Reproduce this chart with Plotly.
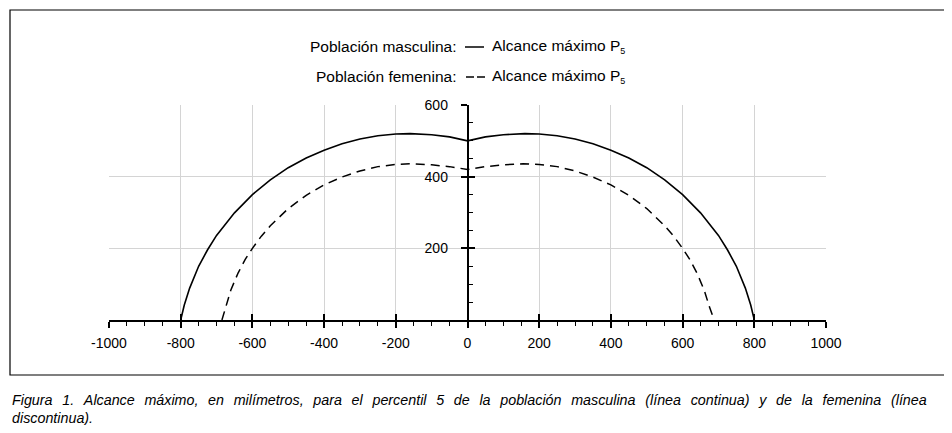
import plotly.graph_objects as go

# ---- data (mm) ----
male_x = [-800, -790, -775, -750, -725, -700, -650, -600, -550, -500, -450, -400, -350, -300, -250, -200, -160, -100, -50, 0,
          50, 100, 160, 200, 250, 300, 350, 400, 450, 500, 550, 600, 650, 700, 725, 750, 775, 790, 800]
male_y = [0, 42, 89, 150, 196, 236, 299, 350, 391, 425, 452, 474, 492, 505, 514, 519, 520, 517, 511, 500,
          511, 517, 520, 519, 514, 505, 492, 474, 452, 425, 391, 350, 299, 236, 196, 150, 89, 42, 0]

female_x = [-685, -675, -660, -640, -620, -600, -575, -550, -500, -450, -400, -350, -300, -250, -200, -155, -100, -50, 0,
            50, 100, 155, 200, 250, 300, 350, 400, 450, 500, 550, 575, 600, 620, 640, 660, 675, 688]
female_y = [0, 36, 84, 131, 169, 200, 234, 263, 311, 348, 377, 399, 416, 428, 434, 436, 433, 428, 420,
            428, 433, 436, 434, 428, 416, 399, 377, 348, 311, 263, 234, 200, 169, 131, 84, 36, 0]

x_ticks = [-1000, -800, -600, -400, -200, 0, 200, 400, 600, 800, 1000]
x_tick_text = ["-1000", "-800", "-600", "-400", "-200", "0", "200", "400", "600", "800", "1000"]
x_grid = [-800, -600, -400, -200, 0, 200, 400, 600, 800]
y_ticks = [200, 400, 600]
y_tick_text = ["200", "400", "600"]

legend_labels = ["Población masculina:", "Población femenina:"]
legend_series = "Alcance máximo P<sub><span style='font-size:9px'>5</span></sub>"
caption_line1 = ("Figura 1. Alcance máximo, en milímetros, para el percentil 5 de la población "
                 "masculina (línea continua) y de la femenina (línea")
caption_line2 = "discontinua)."

# screen geometry (window 952x433, page body margin 8px)
OFF = 8
W, H = 952 - 2 * OFF, 433 - 2 * OFF
L, R, T, B = 109, 826, 105, 320          # plot area in screen pixels
FONT = "Liberation Sans, Arial, Helvetica, sans-serif"


def px(xs):
    return (xs - L) / (R - L)


def py(ys):
    return (B - ys) / (B - T)


fig = go.Figure()
fig.add_trace(go.Scatter(x=male_x, y=male_y, mode="lines", line=dict(color="black", width=1.6),
                         showlegend=False, hoverinfo="skip"))
fig.add_trace(go.Scatter(x=female_x, y=female_y, mode="lines",
                         line=dict(color="black", width=1.5, dash="9px,6px"),
                         showlegend=False, hoverinfo="skip"))
# empty traces so the overlay axes are created
fig.add_trace(go.Scatter(x=[None], y=[None], xaxis="x2", yaxis="y", showlegend=False))
fig.add_trace(go.Scatter(x=[None], y=[None], xaxis="x3", yaxis="y", showlegend=False))
fig.add_trace(go.Scatter(x=[None], y=[None], xaxis="x", yaxis="y2", showlegend=False))

tickfont = dict(family=FONT, size=14, color="black")

fig.update_layout(
    width=W, height=H,
    margin=dict(l=L - OFF, r=W - (R - OFF), t=T - OFF, b=H - (B - OFF), pad=0),
    paper_bgcolor="white", plot_bgcolor="white",
    showlegend=False,
    xaxis=dict(range=[-1000, 1000], tickvals=x_ticks, ticktext=x_tick_text, ticks="outside", ticklen=6,
               tickwidth=1.5, tickcolor="black", showline=True, linecolor="black", linewidth=1.5,
               showgrid=False, zeroline=False, tickfont=tickfont, ticklabelstandoff=3,
               minor=dict(dtick=50, ticks="outside", ticklen=4, tickwidth=1, tickcolor="black", showgrid=False),
               fixedrange=True),
    xaxis2=dict(range=[-1000, 1000], overlaying="x", anchor="y", tickvals=x_grid, showticklabels=False,
                ticks="", showgrid=True, gridcolor="#d4d4d4", gridwidth=1, zeroline=False, showline=False),
    xaxis3=dict(range=[-1000, 1000], overlaying="x", anchor="y", tickvals=x_ticks, showticklabels=False,
                ticks="inside", ticklen=6, tickwidth=1.5, tickcolor="black", showgrid=False,
                zeroline=False, showline=False),
    yaxis=dict(range=[0, 600], anchor="free", position=0.5, tickvals=y_ticks, ticktext=y_tick_text,
               ticks="outside", ticklen=6, tickwidth=1.5, tickcolor="black", showline=True,
               linecolor="black", linewidth=1.5, showgrid=True, gridcolor="#d4d4d4", gridwidth=1,
               zeroline=False, tickfont=tickfont, ticklabelstandoff=10, fixedrange=True),
    yaxis2=dict(range=[0, 600], overlaying="y", anchor="free", position=0.5, side="left",
                tickvals=y_ticks, ticks="inside", ticklen=6, tickwidth=1.5, tickcolor="black",
                showticklabels=False, showgrid=False, zeroline=False, showline=False,
                minor=dict(dtick=50, ticks="inside", ticklen=4, tickwidth=1, tickcolor="black", showgrid=False)),
)

shapes = [
    dict(type="rect", xref="paper", yref="paper", x0=px(10), x1=px(945), y0=py(375), y1=py(10),
         line=dict(color="black", width=1.2), fillcolor="rgba(0,0,0,0)", layer="below"),
    dict(type="line", xref="paper", yref="paper", x0=px(465), x1=px(484), y0=py(47), y1=py(47),
         line=dict(color="black", width=1.5)),
    dict(type="line", xref="paper", yref="paper", x0=px(466), x1=px(474), y0=py(77), y1=py(77),
         line=dict(color="black", width=1.5)),
    dict(type="line", xref="paper", yref="paper", x0=px(477), x1=px(485), y0=py(77), y1=py(77),
         line=dict(color="black", width=1.5)),
]
fig.update_layout(shapes=shapes)

ann = []
for lbl, yy in zip(legend_labels, [47, 77]):
    ann.append(dict(text=lbl, xref="paper", yref="paper", x=px(458), y=py(yy), xanchor="right",
                    yanchor="middle", showarrow=False, font=dict(family=FONT, size=15.5, color="black")))
    ann.append(dict(text=legend_series, xref="paper", yref="paper", x=px(490), y=py(yy), xanchor="left",
                    yanchor="middle", showarrow=False, font=dict(family=FONT, size=15.5, color="black")))

gap = " \u2009\u2009"
cap1 = "<i>" + caption_line1.replace(" ", gap) + "</i>"
cap2 = "<i>" + caption_line2 + "</i>"
for cap, yy in zip([cap1, cap2], [400, 418]):
    ann.append(dict(text=cap, xref="paper", yref="paper", x=px(10), y=py(yy), xanchor="left",
                    yanchor="middle", showarrow=False,
                    font=dict(family="Liberation Sans", size=14.3, color="black")))
fig.update_layout(annotations=ann)

fig.write_html("out.html")
